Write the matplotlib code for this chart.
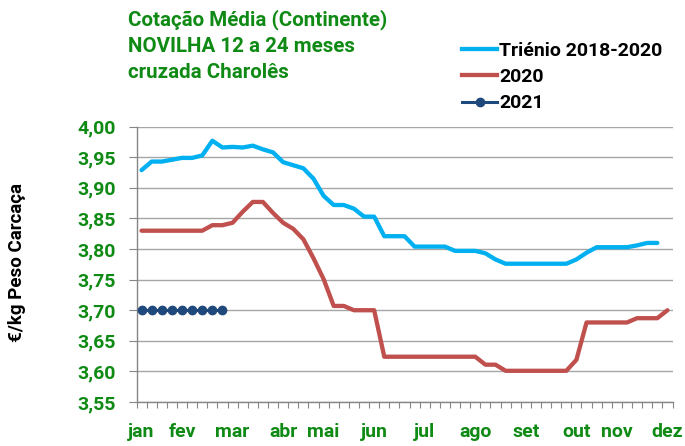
import numpy as np
import matplotlib
matplotlib.use("Agg")
import matplotlib.pyplot as plt
from matplotlib.lines import Line2D
from matplotlib.ticker import FixedLocator, FuncFormatter

# ---- data ----
month_labels = ["jan", "fev", "mar", "abr", "mai", "jun", "jul", "ago", "set", "out", "nov", "dez"]
month_weeks = [0, 4, 9, 14, 18, 23, 28, 33, 38, 43, 47, 52]
n_weeks = 53

trienio = [3.929, 3.943, 3.943, 3.946, 3.949, 3.949, 3.953, 3.977, 3.966, 3.967,
           3.966, 3.969, 3.963, 3.958, 3.942, 3.937, 3.932, 3.915, 3.887, 3.872,
           3.872, 3.866, 3.853, 3.853, 3.821, 3.821, 3.821, 3.804, 3.804, 3.804,
           3.804, 3.797, 3.797, 3.797, 3.793, 3.783, 3.776, 3.776, 3.776, 3.776,
           3.776, 3.776, 3.776, 3.783, 3.794, 3.803, 3.803, 3.803, 3.803, 3.806,
           3.810, 3.810]
ano2020 = [3.830, 3.830, 3.830, 3.830, 3.830, 3.830, 3.830, 3.839, 3.839, 3.843,
           3.861, 3.877, 3.877, 3.859, 3.843, 3.833, 3.816, 3.785, 3.751, 3.707,
           3.707, 3.700, 3.700, 3.700, 3.624, 3.624, 3.624, 3.624, 3.624, 3.624,
           3.624, 3.624, 3.624, 3.624, 3.611, 3.611, 3.601, 3.601, 3.601, 3.601,
           3.601, 3.601, 3.601, 3.619, 3.680, 3.680, 3.680, 3.680, 3.680, 3.687,
           3.687, 3.687, 3.700]
ano2021 = [3.70, 3.70, 3.70, 3.70, 3.70, 3.70, 3.70, 3.70, 3.70]

series_names = ["Triénio 2018-2020", "2020", "2021"]
y_ticks = [3.55, 3.60, 3.65, 3.70, 3.75, 3.80, 3.85, 3.90, 3.95, 4.00]
title_lines = ["Cotação Média (Continente)", "NOVILHA 12 a 24 meses", "cruzada Charolês"]
y_label = "€/kg Peso Carcaça"

# ---- style ----
FONT = ["Roboto", "DejaVu Sans"]
plt.rcParams["font.family"] = FONT
GREEN = "#0F8A14"
C_TRI = "#00B0F0"
C_2020 = "#C0504D"
C_2021 = "#1F497D"
GRID = "#A6A6A6"
AXC = "#868686"

W, H = 685, 446
fig = plt.figure(figsize=(W / 100, H / 100), dpi=100)
L, R, T, B = 136.5, 672.5, 126.7, 402.0
ax = fig.add_axes([L / W, 1 - B / H, (R - L) / W, (B - T) / H])

x_tri = np.arange(len(trienio))
x_2020 = np.arange(len(ano2020))
x_2021 = np.arange(len(ano2021))

ax.plot(x_tri, trienio, color=C_TRI, lw=3.1, solid_joinstyle="round", solid_capstyle="round", zorder=3)
ax.plot(x_2020, ano2020, color=C_2020, lw=3.1, solid_joinstyle="round", solid_capstyle="round", zorder=3)
ax.plot(x_2021, ano2021, color=C_2021, lw=2.2, marker="o", ms=6, zorder=4)

ax.set_xlim(-0.5, n_weeks - 0.5)
ax.set_ylim(3.55, 4.00)

ax.set_yticks(y_ticks)
ax.yaxis.set_major_formatter(FuncFormatter(lambda v, p: f"{v:.2f}".replace(".", ",")))
ax.grid(axis="y", color=GRID, lw=1.0, zorder=0)
ax.set_axisbelow(True)

ax.set_xticks(month_weeks)
ax.set_xticklabels(month_labels)
ax.xaxis.set_minor_locator(FixedLocator(np.arange(-0.5, n_weeks, 1.0)))
ax.tick_params(axis="x", which="major", length=0, pad=15)
ax.tick_params(axis="x", which="minor", length=4, width=0.8, color=AXC, direction="out")
ax.tick_params(axis="y", which="major", length=6, width=0.8, color=AXC, direction="out", pad=9)

for lab in ax.get_xticklabels() + ax.get_yticklabels():
    lab.set_fontsize(14)
    lab.set_fontweight("bold")
    lab.set_color(GREEN)

for s in ["top", "right"]:
    ax.spines[s].set_visible(False)
for s in ["left", "bottom"]:
    ax.spines[s].set_color(AXC)
    ax.spines[s].set_linewidth(1.0)

# title lines
for txt, yc in zip(title_lines, [20, 46.5, 72]):
    fig.text(128 / W, 1 - yc / H, txt, ha="left", va="center", fontsize=14.8,
             fontweight="bold", color=GREEN)

# y label
fig.text(16.7 / W, 1 - 262 / H, y_label, rotation=90, ha="center", va="center",
         fontsize=13.5, fontweight="bold", color="black")

# legend
handles = [Line2D([], [], color=C_TRI, lw=3.1),
           Line2D([], [], color=C_2020, lw=3.1),
           Line2D([], [], color=C_2021, lw=2.2, marker="o", ms=6)]
leg = fig.legend(handles, series_names, loc="upper left",
                 bbox_to_anchor=(462 / W, 1 - 42 / H), frameon=False,
                 prop={"family": FONT, "weight": "bold", "size": 14},
                 handlelength=1.8, handletextpad=0.1, labelspacing=0.42,
                 borderpad=0, borderaxespad=0)

fig.savefig("out.png", dpi=100)
